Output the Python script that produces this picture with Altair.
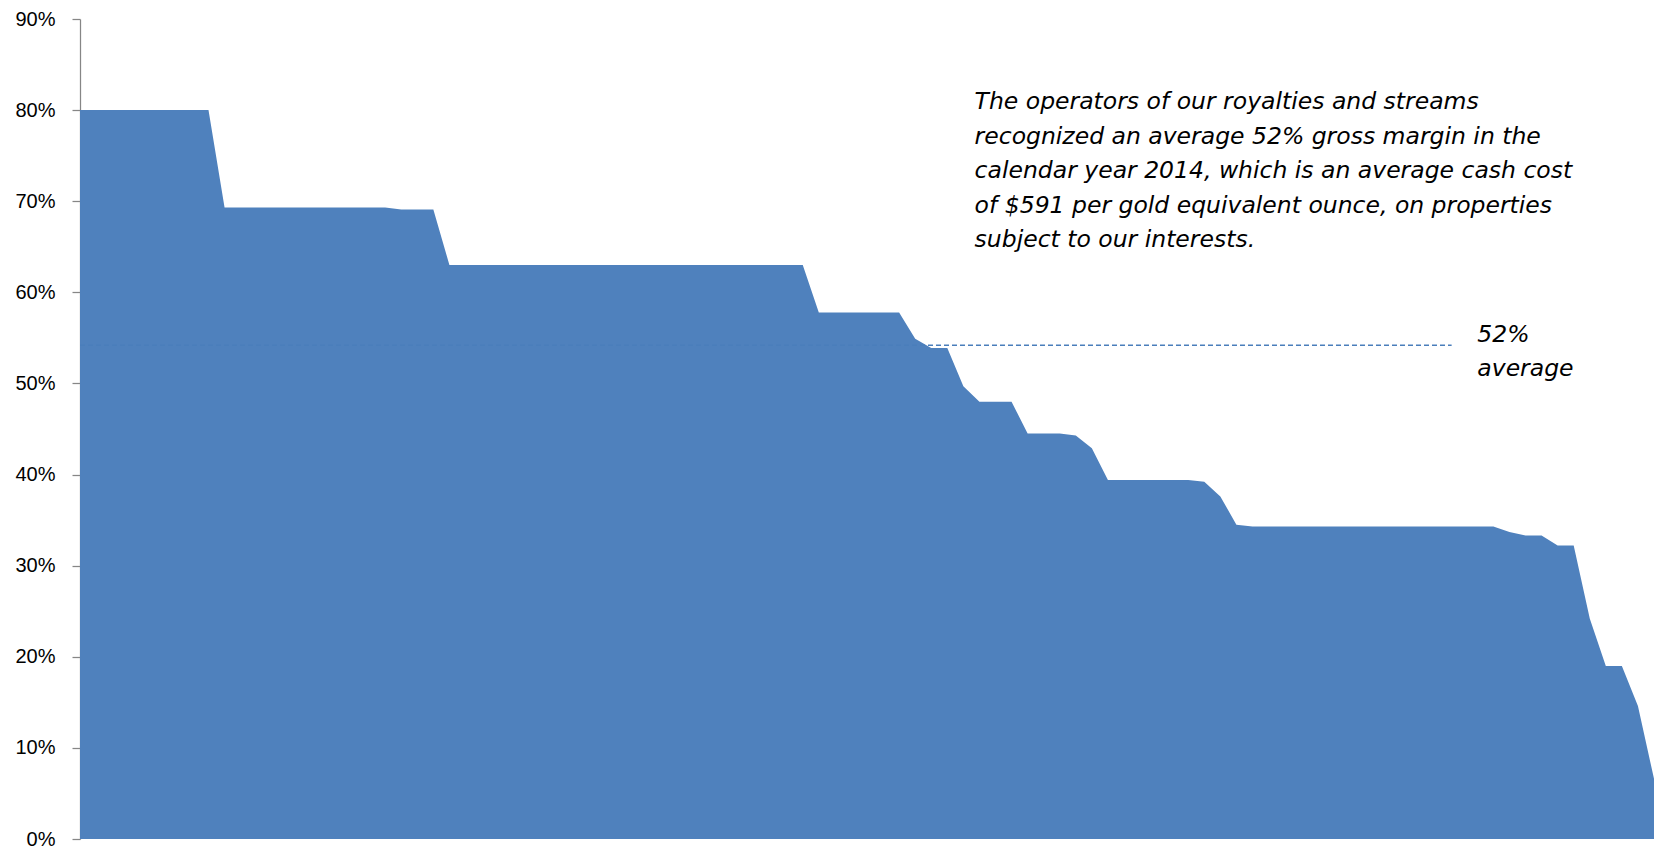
import altair as alt
import pandas as pd

# Gross margin (%) per property, sorted descending
margins = [
    80.0, 80.0, 80.0, 80.0, 80.0, 80.0, 80.0, 80.0, 80.0,
    69.3, 69.3, 69.3, 69.3, 69.3, 69.3, 69.3, 69.3, 69.3, 69.3, 69.3,
    69.1, 69.1, 69.1,
    63.0, 63.0, 63.0, 63.0, 63.0, 63.0, 63.0, 63.0, 63.0, 63.0, 63.0, 63.0,
    63.0, 63.0, 63.0, 63.0, 63.0, 63.0, 63.0, 63.0, 63.0, 63.0, 63.0,
    57.8, 57.8, 57.8, 57.8, 57.8, 57.8,
    54.9, 53.9, 53.9, 49.7,
    48.0, 48.0, 48.0,
    44.5, 44.5, 44.5, 44.3, 42.9,
    39.4, 39.4, 39.4, 39.4, 39.4, 39.4, 39.2, 37.6, 34.5,
    34.3, 34.3, 34.3, 34.3, 34.3, 34.3, 34.3, 34.3,
    34.3, 34.3, 34.3, 34.3, 34.3, 34.3, 34.3, 34.3,
    33.7, 33.3, 33.3, 32.2, 32.2, 24.2, 19.0, 19.0, 14.6, 6.6,
]
property_index = list(range(len(margins)))

y_ticks = [0, 10, 20, 30, 40, 50, 60, 70, 80, 90]

average_line_level = [54.2]
average_line_start = [0]
average_line_end = [85.4]

note_lines = [
    "The operators of our royalties and streams",
    "recognized an average 52% gross margin in the",
    "calendar year 2014, which is an average cash cost",
    "of $591 per gold equivalent ounce, on properties",
    "subject to our interests.",
]
avg_label_lines = ["52%", "average"]

df = pd.DataFrame({"idx": property_index, "margin": margins})
rule_df = pd.DataFrame({"x": average_line_start, "x2": average_line_end, "y": average_line_level})

x_scale = alt.Scale(domain=[0, len(margins) - 1], nice=False, zero=False)
y_scale = alt.Scale(domain=[0, 90], nice=False)

area = alt.Chart(df).mark_area(color="#4F81BD", interpolate="linear").encode(
    x=alt.X("idx:Q", scale=x_scale, axis=None),
    y=alt.Y(
        "margin:Q",
        scale=y_scale,
        axis=alt.Axis(
            values=y_ticks,
            labelExpr="datum.value + '%'",
            title=None,
            grid=False,
            domainColor="#868686",
            domainWidth=1.25,
            tickColor="#868686",
            tickWidth=1.25,
            tickSize=8,
            labelPadding=17,
            labelFont="Liberation Sans",
            labelFontSize=20,
            labelColor="#000000",
        ),
    ),
)

rule = alt.Chart(rule_df).mark_rule(
    color="#4A7EBB", strokeDash=[5, 3], strokeWidth=1.6
).encode(
    x=alt.X("x:Q", scale=x_scale),
    x2="x2:Q",
    y=alt.Y("y:Q", scale=y_scale),
)

text_style = dict(
    align="left",
    baseline="alphabetic",
    font="DejaVu Sans",
    fontStyle="italic",
    fontSize=23.5,
    lineHeight=34.5,
    color="#000000",
)

note = alt.Chart(pd.DataFrame({"a": [0]})).mark_text(
    text=note_lines, **text_style
).encode(x=alt.datum(55.7), y=alt.datum(80.09))

avg_label = alt.Chart(pd.DataFrame({"a": [0]})).mark_text(
    text=avg_label_lines, **text_style
).encode(x=alt.datum(87.0), y=alt.datum(54.58))

chart = (
    alt.layer(area, rule, note, avg_label)
    .properties(
        width=1574,
        height=820,
        padding={"left": 72, "top": 11, "right": 0, "bottom": 11},
        autosize=alt.AutoSizeParams(type="none"),
        background="#ffffff",
    )
    .configure_view(stroke=None)
)

chart.save("out.html", embed_options={"renderer": "svg", "actions": False})
